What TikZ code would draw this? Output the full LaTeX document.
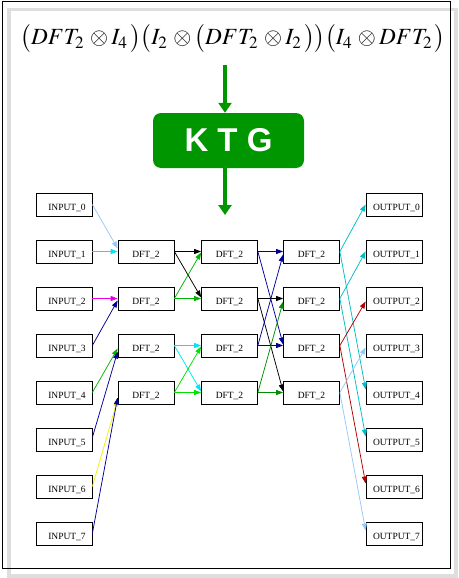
\documentclass[tikz,border=0pt]{standalone}
\usepackage{mathptmx}
\usepackage{graphicx}
\usepackage{fontspec}
\setmainfont{Liberation Serif}
\newfontfamily\ktgfont{Liberation Sans}
\usetikzlibrary{arrows.meta,shadows}
\definecolor{kgreen}{RGB}{0,150,0}
\definecolor{clblue}{RGB}{150,200,250}
\definecolor{ccyan}{RGB}{0,230,240}
\definecolor{cmag}{RGB}{230,0,230}
\definecolor{cnavy}{RGB}{0,0,150}
\definecolor{cgreen}{RGB}{0,180,0}
\definecolor{cyell}{RGB}{240,240,0}
\definecolor{clime}{RGB}{0,225,0}
\definecolor{cdgreen}{RGB}{0,140,0}
\definecolor{cdcyan}{RGB}{0,190,200}
\definecolor{cdred}{RGB}{180,0,0}
\begin{document}
\begin{tikzpicture}[x=1pt,y=-1pt,
  box/.style={draw=black, line width=0.7pt, fill=white, minimum width=56pt,
    minimum height=23pt, inner sep=0pt, text height=12pt, text depth=0pt,
    font=\fontsize{9.5}{10}\selectfont,
    drop shadow={shadow xshift=0.8pt, shadow yshift=-0.8pt, fill=black!45, opacity=1}},
  edgeline/.style={line width=0.75pt, -{Triangle[length=7pt,width=5pt]}},
  garrow/.style={kgreen, line width=4pt, -{Triangle[length=10pt,width=13pt]}}
]
\useasboundingbox (0,0) rectangle (458,578);
\draw[black!13, line width=3.5pt] (9,9.5) rectangle (456,576);
\draw[black, line width=1pt] (2,1.5) rectangle (450,568);

\node[inner sep=0pt] (formula) at (233,39)
  {\resizebox{425pt}{!}{\fontsize{24}{24}\selectfont
   $\bigl(DFT_2\,\otimes I_4\,\bigr)\bigl(I_2\,\otimes\bigl(DFT_2\,\otimes I_2\,\bigr)\bigr)\bigl(I_4\,\otimes DFT_2\,\bigr)$}};

\node[fill=kgreen, rounded corners=8pt, minimum width=151pt, minimum height=55pt,
  inner sep=0pt, text=white, font=\ktgfont\bfseries\fontsize{33}{33}\selectfont]
  (ktg) at (228.5,140.5) {K T G};
\coordinate (a0) at (225,65);
\coordinate (a1) at (225,215);
\draw[garrow] (a0) -- (a0 |- ktg.north);
\draw[garrow] (ktg.south -| a1) -- (a1);

\foreach \i in {0,...,7} {
  \node[box] (in\i) at (64,{204.5+47*\i}) {\hspace*{6pt}INPUT\_\i};
  \node[box] (out\i) at (394,{204.5+47*\i}) {\hspace*{5pt}OUTPUT\_\i};
}
\foreach \j in {0,...,3} {
  \node[box] (da\j) at (146,{251.5+47*\j}) {DFT\_2};
  \node[box] (db\j) at (229.5,{251.5+47*\j}) {DFT\_2};
  \node[box] (dc\j) at (311.5,{251.5+47*\j}) {DFT\_2};
}

% stage 0
\draw[edgeline, clblue] (in0.east) -- ([yshift=3pt]da0.west);
\draw[edgeline, ccyan] (in1.east) -- (da0.west);
\draw[edgeline, cmag] (in2.east) -- (da1.west);
\draw[edgeline, cnavy] (in3.east) -- ([yshift=-2pt]da1.west);
\draw[edgeline, cgreen] (in4.east) -- ([yshift=-3pt]da2.west);
\draw[edgeline, cnavy] ([yshift=2pt]in5.east) -- ([yshift=-6pt]da2.west);
\draw[edgeline, cyell] (in6.east) -- ([yshift=-7pt]da3.west);
\draw[edgeline, cnavy] (in7.east) -- ([yshift=-5pt]da3.west);

% stage 1
\draw[edgeline, black] (da0.east) -- (db0.west);
\draw[edgeline, black] (da0.east) -- ([yshift=1pt]db1.west);
\draw[edgeline, cgreen] (da1.east) -- ([yshift=-1pt]db0.west);
\draw[edgeline, cgreen] (da1.east) -- (db1.west);
\draw[edgeline, ccyan] (da2.east) -- (db2.west);
\draw[edgeline, ccyan] (da2.east) -- ([yshift=1pt]db3.west);
\draw[edgeline, clime] (da3.east) -- ([yshift=-1pt]db2.west);
\draw[edgeline, clime] (da3.east) -- (db3.west);

% stage 2
\draw[edgeline, cnavy] (db0.east) -- (dc0.west);
\draw[edgeline, cnavy] (db0.east) -- ([yshift=1pt]dc2.west);
\draw[edgeline, black] (db1.east) -- (dc1.west);
\draw[edgeline, black] (db1.east) -- ([yshift=1pt]dc3.west);
\draw[edgeline, cnavy] (db2.east) -- ([yshift=-3pt]dc0.west);
\draw[edgeline, cnavy] (db2.east) -- (dc2.west);
\draw[edgeline, cdgreen] (db3.east) -- ([yshift=-3pt]dc1.west);
\draw[edgeline, cdgreen] (db3.east) -- (dc3.west);

% stage 3
\draw[edgeline, cdcyan] (dc0.east) -- (out0.west);
\draw[edgeline, cdcyan] (dc0.east) -- ([yshift=3pt]out4.west);
\draw[edgeline, cdcyan] (dc1.east) -- (out1.west);
\draw[edgeline, cdcyan] (dc1.east) -- ([yshift=3pt]out5.west);
\draw[edgeline, cdred] (dc2.east) -- ([yshift=-3pt]out2.west);
\draw[edgeline, cdred] (dc2.east) -- ([yshift=3pt]out6.west);
\draw[edgeline, clblue] (dc3.east) -- ([yshift=-2pt]out3.west);
\draw[edgeline, clblue] (dc3.east) -- ([yshift=3pt]out7.west);
\end{tikzpicture}
\end{document}
